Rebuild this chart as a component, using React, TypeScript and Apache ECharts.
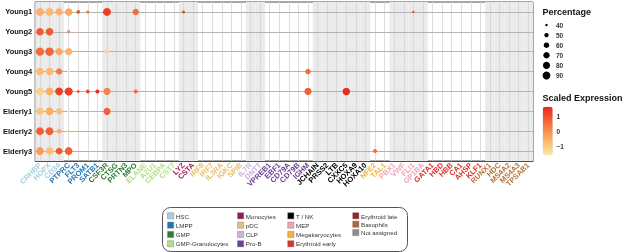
import React, { useEffect, useRef } from "react";
import * as echarts from "echarts";

const FONT = "'Liberation Sans', Arial, Helvetica, sans-serif";

const samples = ["Young1", "Young2", "Young3", "Young4", "Young5", "Elderly1", "Elderly2", "Elderly3"];

const groupNames = ["HSC", "LMPP", "GMP", "GMP-Granulocytes", "Monocytes", "pDC", "CLP", "Pro-B", "T / NK", "Megakaryocytes", "MEP", "Erythroid early", "Basophils"];
const groupColors = ["#a6cee3", "#1f78b4", "#2e7d32", "#b2df8a", "#a0195e", "#e6bd6a", "#cab2d6", "#6a3d9a", "#000000", "#f2b43c", "#f4a3b0", "#e0302a", "#b8733a"];
const groupGenes = [
  ["CRHBP", "HOPX", "CD34"],
  ["PTPRC", "FLT3", "PROM1", "SATB1"],
  ["CSF3R", "CTSG", "PRTN3", "MPO"],
  ["ELANE", "AZU1", "CEBPA", "CST7"],
  ["LYZ", "CSTA"],
  ["IRF8", "IRF7", "IL3RA", "IGKC", "SPIB"],
  ["IL7R", "DNTT"],
  ["VPREB1", "EBF1", "CD79A", "CD79B", "IGHM"],
  ["JCHAIN", "PRSS2", "LTB", "CXXC5", "HOXA9", "HOXA10"],
  ["NFE2", "TAL1"],
  ["PBX1", "VWF", "FLI1", "GP1BA"],
  ["GATA1", "HBD", "HBB", "CA1", "AHSP", "KLF1"],
  ["RUNX1", "HDC", "MS4A2", "MS4A3", "TPSAB1"],
];
const shadedGroups = [1, 0, 1, 0, 1, 0, 1, 0, 1, 0, 1, 0, 1];

// [gene, percentage, scaled expression]
const young1: [string, number, number][] = [
  ["CRHBP", 92, -0.5], ["HOPX", 92, -0.7], ["CD34", 80, -0.5], ["PTPRC", 86, -0.4],
  ["FLT3", 45, 1.0], ["PROM1", 42, 0.6], ["CSF3R", 92, 1.3], ["MPO", 70, 0.6],
  ["LYZ", 42, 1.2], ["FLI1", 40, 1.0],
];
const young2: [string, number, number][] = [
  ["CRHBP", 86, 0.9], ["HOPX", 86, 0.9], ["PTPRC", 45, -0.2],
];
const young3: [string, number, number][] = [
  ["CRHBP", 97, 0.6], ["HOPX", 100, 0.7], ["CD34", 83, -0.4], ["PTPRC", 83, -0.6], ["CSF3R", 53, -1.3],
];
const young4: [string, number, number][] = [
  ["CRHBP", 86, -0.7], ["HOPX", 86, -0.7], ["CD34", 70, 0.3], ["PTPRC", 40, -1.4], ["IGHM", 60, 0.6],
];
const young5: [string, number, number][] = [
  ["CRHBP", 86, -1.1], ["HOPX", 90, -0.5], ["CD34", 90, 1.3], ["PTPRC", 95, 1.3],
  ["FLT3", 42, 0.9], ["PROM1", 47, 1.1], ["SATB1", 47, 1.6], ["CSF3R", 80, 0.2],
  ["MPO", 47, 0.6], ["IGHM", 80, 0.8], ["CXXC5", 86, 1.6],
];
const elderly1: [string, number, number][] = [
  ["CRHBP", 86, -0.9], ["HOPX", 90, -0.5], ["CD34", 70, -0.8], ["PTPRC", 42, -1.3],
  ["CSF3R", 80, 0.8], ["NFE2", 40, -1.4],
];
const elderly2: [string, number, number][] = [
  ["CRHBP", 90, 0.8], ["HOPX", 90, 0.8], ["CD34", 53, -0.5], ["PTPRC", 42, -1.1],
];
const elderly3: [string, number, number][] = [
  ["CRHBP", 90, -0.2], ["HOPX", 86, -0.8], ["CD34", 75, 0.9], ["PTPRC", 90, 0.8], ["NFE2", 47, 0.6],
];

const sizeTicks = [40, 50, 60, 70, 80, 90];
const exprTicks = [1, 0, -1];
const exprMin = -1.6;
const exprMax = 1.7;
const exprColors = ["#fee8a5", "#fdbe74", "#f98c4f", "#f25a32", "#e9261d"];

const legendCols = [
  ["HSC", "LMPP", "GMP", "GMP-Granulocytes"],
  ["Monocytes", "pDC", "CLP", "Pro-B"],
  ["T / NK", "MEP", "Megakaryocytes", "Erythroid early"],
  ["Erythroid late", "Basophils", "Not assigned"],
];
const legendColColors = [
  ["#a6cee3", "#1f78b4", "#2e7d32", "#b2df8a"],
  ["#8b1c62", "#e4c07c", "#cab2d6", "#6a3d9a"],
  ["#000000", "#f4a3a8", "#f0b43c", "#e0302a"],
  ["#a51c1c", "#b5643a", "#8c8c8c"],
];

const sizeOf = (p: number) => 1.2 + 6.6 * Math.sqrt(Math.max(p - 38, 0) / 52);

export default function App() {
  const ref = useRef<HTMLDivElement>(null);
  useEffect(() => {
    const chart = echarts.init(ref.current!, null, { renderer: "svg" });
    const genes = groupGenes.flat();
    const groupOf = (g: string) => groupGenes.findIndex((gs) => gs.includes(g));
    const geneColor = genes.map((g) => groupColors[groupOf(g)]);
    const shade = genes.map((g) => (shadedGroups[groupOf(g)] ? 1 : 0));
    const rows = [young1, young2, young3, young4, young5, elderly1, elderly2, elderly3];
    const dots = rows.flatMap((r, si) => r.map(([g, p, e]) => [g, samples[si], p, e]));

    const gridLeft = 33, gridTop = 2, gridRight = 91, gridBottom = 91;

    const graphic: any[] = [];
    graphic.push({ type: "text", left: 542.5, top: 7, style: { text: "Percentage", font: `bold 9px ${FONT}`, fill: "#111" } });
    sizeTicks.forEach((p, k) => {
      const cy = 25 + k * 10.1;
      graphic.push({ type: "circle", shape: { cx: 546.5, cy, r: sizeOf(p) / 2 }, style: { fill: "#000" } });
      graphic.push({ type: "text", x: 556, y: cy, style: { text: String(p), font: `bold 6.5px ${FONT}`, fill: "#333", textVerticalAlign: "middle" } });
    });
    graphic.push({ type: "text", left: 542.5, top: 93, style: { text: "Scaled Expression", font: `bold 9px ${FONT}`, fill: "#111" } });
    const cbTop = 106.7, cbH = 48.3;
    exprTicks.forEach((v) => {
      const cy = cbTop + ((exprMax - v) / (exprMax - exprMin)) * cbH;
      graphic.push({ type: "text", x: 556.5, y: cy, style: { text: v < 0 ? "\u2212" + Math.abs(v) : String(v), font: `bold 6.5px ${FONT}`, fill: "#333", textVerticalAlign: "middle" } });
    });
    graphic.push({ type: "rect", shape: { x: 162.5, y: 207.5, width: 245, height: 44, r: 8 }, style: { fill: "#fff", stroke: "#555", lineWidth: 1 } });
    const colX = [167.5, 237.5, 287.7, 352.7];
    legendCols.forEach((col, c) => {
      const step = c === 3 ? 8.4 : 9.33;
      col.forEach((name, r) => {
        const y = 212.7 + r * step;
        graphic.push({ type: "rect", shape: { x: colX[c], y, width: 6.2, height: 6.2 }, style: { fill: legendColColors[c][r], stroke: "#777", lineWidth: 0.4 } });
        graphic.push({ type: "text", x: colX[c] + 8.3, y: y + 3.3, style: { text: name, font: `6.2px ${FONT}`, fill: "#333", textVerticalAlign: "middle" } });
      });
    });

    chart.setOption({
      animation: false,
      textStyle: { fontFamily: FONT },
      grid: { left: gridLeft, right: gridRight, top: gridTop, bottom: gridBottom, show: true, borderColor: "#4d4d4d", borderWidth: 1, backgroundColor: "transparent" },
      xAxis: {
        type: "category",
        data: genes,
        axisLine: { lineStyle: { color: "#4d4d4d", width: 1 } },
        axisTick: { alignWithLabel: true, length: 2, lineStyle: { color: "#4d4d4d" } },
        axisLabel: { interval: 0, rotate: 45, fontSize: 7.5, fontWeight: "bold", margin: 3, fontFamily: FONT, color: (_v: any, i: number) => geneColor[i] },
        splitLine: { show: false },
      },
      yAxis: [
        {
          type: "category",
          data: samples,
          inverse: true,
          axisLine: { lineStyle: { color: "#4d4d4d", width: 1 } },
          axisTick: { alignWithLabel: true, length: 2, lineStyle: { color: "#4d4d4d" } },
          axisLabel: { fontSize: 7.5, fontWeight: "bold", color: "#111", margin: 3, fontFamily: FONT },
          splitLine: { show: false },
        },
        { type: "value", min: 0, max: 1, show: false },
      ],
      visualMap: {
        type: "continuous",
        seriesIndex: 2,
        dimension: 3,
        min: exprMin,
        max: exprMax,
        inRange: { color: exprColors },
        left: 542.7,
        top: cbTop,
        itemWidth: 10,
        itemHeight: cbH,
        calculable: false,
        padding: 0,
        hoverLink: false,
      },
      series: [
        {
          type: "bar",
          yAxisIndex: 1,
          data: shade,
          barWidth: "100%",
          silent: true,
          z: 0,
          itemStyle: { color: "#ebebeb" },
          markLine: {
            silent: true,
            symbol: "none",
            label: { show: false },
            lineStyle: { color: "#d4d4d4", width: 0.8, type: "solid" },
            data: genes.map((g) => ({ xAxis: g })),
          },
        },
        {
          type: "scatter",
          data: samples.map((s) => [genes[0], s]),
          symbolSize: 0,
          silent: true,
          z: 1,
          markLine: {
            silent: true,
            symbol: "none",
            label: { show: false },
            lineStyle: { color: "#b3b3b3", width: 1.2, type: "solid" },
            data: samples.map((s) => ({ yAxis: s })),
          },
        },
        {
          type: "scatter",
          data: dots,
          z: 5,
          symbolSize: (v: any) => sizeOf(v[2]),
          itemStyle: { opacity: 1 },
        },
      ],
      graphic,
    });
    return () => chart.dispose();
  }, []);
  return <div ref={ref} style={{ position: "fixed", left: 0, top: 0, width: 624, height: 252 }} />;
}
